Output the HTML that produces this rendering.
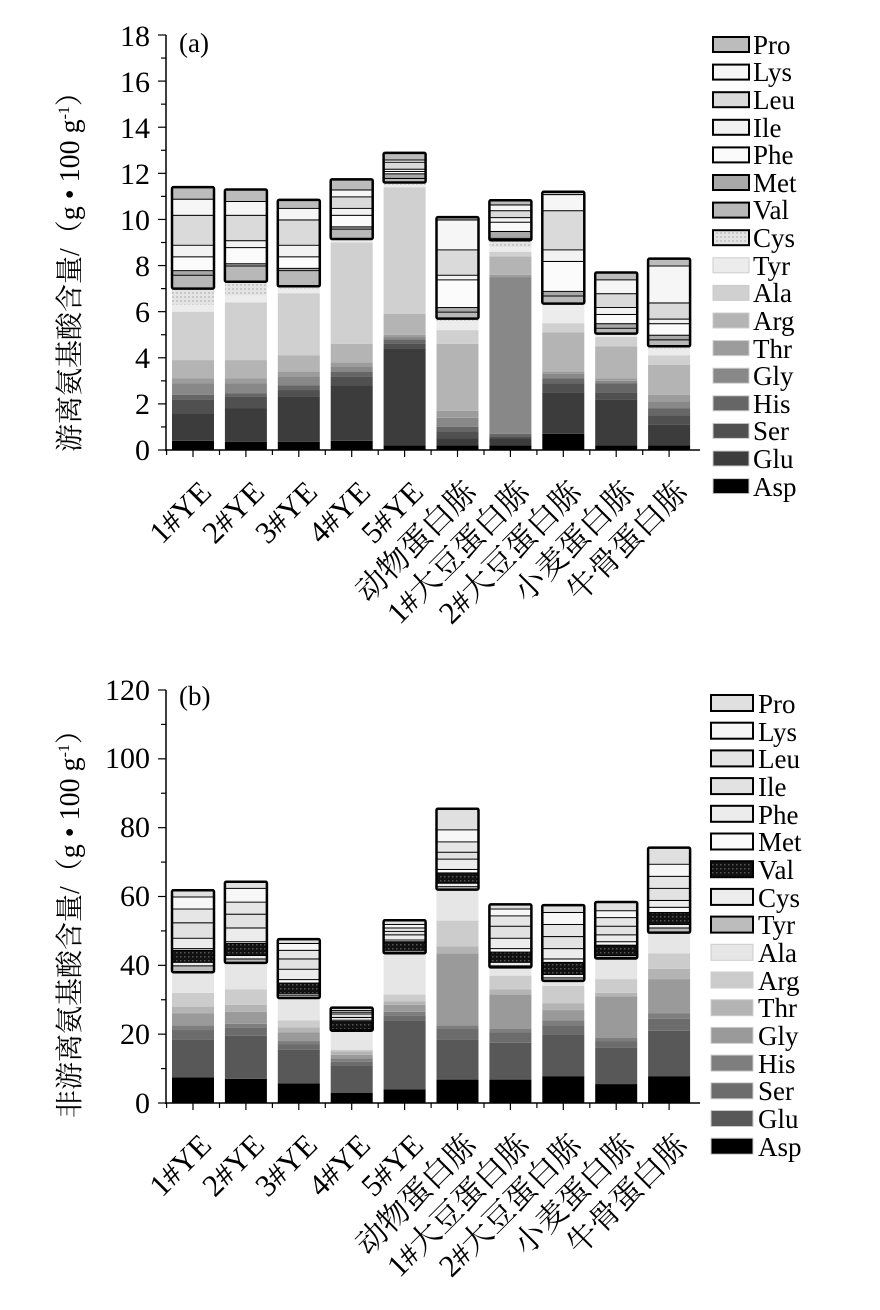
<!DOCTYPE html>
<html><head><meta charset="utf-8"><style>
html,body{margin:0;padding:0;background:#fff;width:880px;height:1310px;overflow:hidden}
svg text{font-family:"Liberation Serif","Noto Serif CJK SC",serif;fill:#000}
</style></head><body>
<svg id="s" width="880" height="1310" xmlns="http://www.w3.org/2000/svg">
<defs>
<pattern id="dotA" width="4" height="4" patternUnits="userSpaceOnUse"><rect width="4" height="4" fill="#e4e4e4"/><rect width="2" height="2" fill="#c8c8c8"/></pattern>
<pattern id="dotV" width="4" height="4" patternUnits="userSpaceOnUse"><rect width="4" height="4" fill="#111"/><rect width="1.5" height="1.5" fill="#555"/></pattern>
</defs>
<g id="bars"></g>
<line x1="166" y1="35" x2="166" y2="451" stroke="#000" stroke-width="1.5"/>
<line x1="165" y1="450" x2="700" y2="450" stroke="#000" stroke-width="1.5"/>
<g font-size="30" text-anchor="end">
<text x="150" y="460">0</text><text x="150" y="414">2</text><text x="150" y="368">4</text><text x="150" y="322">6</text><text x="150" y="276">8</text><text x="150" y="230">10</text><text x="150" y="184">12</text><text x="150" y="138">14</text><text x="150" y="92">16</text><text x="150" y="46">18</text>
</g>
<text x="179" y="52" font-size="27">(a)</text>
<text transform="translate(79,452) rotate(-90)" font-size="28">游离氨基酸含量/（g • 100 g<tspan font-size="16" dy="-10">-1</tspan><tspan dy="10">）</tspan></text>
<line x1="166" y1="690" x2="166" y2="1104" stroke="#000" stroke-width="1.5"/>
<line x1="165" y1="1103" x2="700" y2="1103" stroke="#000" stroke-width="1.5"/>
<g font-size="30" text-anchor="end">
<text x="150" y="1113">0</text><text x="150" y="1044">20</text><text x="150" y="975">40</text><text x="150" y="906">60</text><text x="150" y="837">80</text><text x="150" y="768">100</text><text x="150" y="700">120</text>
</g>
<text x="179" y="705" font-size="27">(b)</text>
<text transform="translate(79,1118) rotate(-90)" font-size="28">非游离氨基酸含量/（g • 100 g<tspan font-size="16" dy="-10">-1</tspan><tspan dy="10">）</tspan></text>
<g font-size="31" text-anchor="end">
<text transform="translate(213,494) rotate(-45)">1#YE</text>
<text transform="translate(266,494) rotate(-45)">2#YE</text>
<text transform="translate(319,494) rotate(-45)">3#YE</text>
<text transform="translate(372,494) rotate(-45)">4#YE</text>
<text transform="translate(425,494) rotate(-45)">5#YE</text>
<text transform="translate(478,494) rotate(-45)">动物蛋白胨</text>
<text transform="translate(531,494) rotate(-45)">1#大豆蛋白胨</text>
<text transform="translate(583,494) rotate(-45)">2#大豆蛋白胨</text>
<text transform="translate(636,494) rotate(-45)">小麦蛋白胨</text>
<text transform="translate(689,494) rotate(-45)">牛骨蛋白胨</text>
</g>
<g font-size="31" text-anchor="end">
<text transform="translate(213,1147) rotate(-45)">1#YE</text>
<text transform="translate(266,1147) rotate(-45)">2#YE</text>
<text transform="translate(319,1147) rotate(-45)">3#YE</text>
<text transform="translate(372,1147) rotate(-45)">4#YE</text>
<text transform="translate(425,1147) rotate(-45)">5#YE</text>
<text transform="translate(478,1147) rotate(-45)">动物蛋白胨</text>
<text transform="translate(531,1147) rotate(-45)">1#大豆蛋白胨</text>
<text transform="translate(583,1147) rotate(-45)">2#大豆蛋白胨</text>
<text transform="translate(636,1147) rotate(-45)">小麦蛋白胨</text>
<text transform="translate(689,1147) rotate(-45)">牛骨蛋白胨</text>
</g>
<g font-size="27">
<text x="753" y="54">Pro</text><text x="753" y="81">Lys</text><text x="753" y="109">Leu</text><text x="753" y="137">Ile</text><text x="753" y="164">Phe</text><text x="753" y="192">Met</text><text x="753" y="219">Val</text><text x="753" y="247">Cys</text><text x="753" y="275">Tyr</text><text x="753" y="302">Ala</text><text x="753" y="330">Arg</text><text x="753" y="358">Thr</text><text x="753" y="385">Gly</text><text x="753" y="413">His</text><text x="753" y="440">Ser</text><text x="753" y="468">Glu</text><text x="753" y="496">Asp</text>
</g>
<g font-size="27">
<text x="758" y="713">Pro</text><text x="758" y="741">Lys</text><text x="758" y="768">Leu</text><text x="758" y="796">Ile</text><text x="758" y="824">Phe</text><text x="758" y="851">Met</text><text x="758" y="879">Val</text><text x="758" y="907">Cys</text><text x="758" y="934">Tyr</text><text x="758" y="962">Ala</text><text x="758" y="990">Arg</text><text x="758" y="1017">Thr</text><text x="758" y="1045">Gly</text><text x="758" y="1073">His</text><text x="758" y="1100">Ser</text><text x="758" y="1128">Glu</text><text x="758" y="1156">Asp</text>
</g>
</svg>
<script>
var NS="http://www.w3.org/2000/svg",g=document.getElementById("bars");
function r(x,y,w,h,f){var e=document.createElementNS(NS,"rect");e.setAttribute("x",x);e.setAttribute("y",y);e.setAttribute("width",w);e.setAttribute("height",Math.max(h,0));e.setAttribute("fill",f);g.appendChild(e);}
function ln(x1,y1,x2,y2,w){var e=document.createElementNS(NS,"line");e.setAttribute("x1",x1);e.setAttribute("y1",y1);e.setAttribute("x2",x2);e.setAttribute("y2",y2);e.setAttribute("stroke","#000");e.setAttribute("stroke-width",w);g.appendChild(e);}
var colA=["#000","#3c3c3c","#505050","#666","#888","#9c9c9c","#b4b4b4","#d0d0d0","#ececec","url(#dotA)","#b8b8b8","#a8a8a8","#fbfbfb","#f2f2f2","#dadada","#f6f6f6","#bcbcbc"];
var colB=["#000","#585858","#6c6c6c","#7e7e7e","#9a9a9a","#b4b4b4","#cccccc","#e6e6e6","#bcbcbc","#ededed","url(#dotV)","#fafafa","#ececec","#e2e2e2","#e6e6e6","#f7f7f7","#e0e0e0"];
var A=[[0.4,1.6,2.2,2.4,2.9,3.1,3.9,6.0,6.3,7.0,7.6,7.8,8.4,8.9,10.2,10.9,11.4],
[0.35,1.8,2.3,2.45,2.9,3.1,3.9,6.4,6.7,7.3,8.0,8.1,8.8,9.1,10.2,10.8,11.3],
[0.35,2.3,2.6,2.8,3.2,3.4,4.1,6.8,7.0,7.1,7.8,7.9,8.4,8.9,10.0,10.5,10.85],
[0.4,2.8,3.2,3.4,3.6,3.8,4.6,9.0,9.1,9.15,9.6,9.7,10.2,10.5,11.0,11.3,11.74],
[0.2,4.4,4.6,4.8,4.9,5.0,5.9,11.4,11.5,11.6,11.8,12.0,12.1,12.2,12.5,12.6,12.89],
[0.2,0.5,0.8,1.0,1.4,1.7,4.6,5.2,5.6,5.7,6.0,6.2,7.4,7.6,8.7,10.0,10.1],
[0.2,0.5,0.6,0.7,7.5,7.6,8.4,8.6,8.8,9.1,9.2,9.5,9.9,10.1,10.4,10.65,10.83],
[0.7,2.5,2.9,3.1,3.3,3.4,5.1,5.5,6.3,6.35,6.7,6.9,8.2,8.7,10.4,11.1,11.2],
[0.2,2.2,2.5,2.9,3.0,3.1,4.5,4.9,5.0,5.05,5.3,5.5,5.9,6.2,6.8,7.4,7.7],
[0.2,1.1,1.5,1.8,2.1,2.4,3.7,4.1,4.4,4.5,4.8,5.0,5.5,5.7,6.4,8.0,8.3]];
var B=[[7.4,18.5,21.2,22.6,26,28,32,38,40,41,44.5,45,48,52.5,56.5,60,61.8],
[7.0,19.5,22,23,26.5,28.5,33,40.7,42,43,46.5,47,51,55,58.5,62.5,64.3],
[5.7,15.5,17,18,20.5,22,24,30.5,31.5,32,35,36,39,42,44.5,46.5,47.6],
[3.0,11,12,13,14,15,15.5,21,21.3,21.5,23.8,24.2,25,26,26.5,27,27.7],
[4.0,24,25.5,26.5,28.5,29.5,31.5,43.5,44,44.5,47,47.5,49,50,51,52,53.1],
[6.8,18.5,21.5,22.5,43.5,45.5,53,62,63,64,67,68,71,73,76,79.5,85.5],
[6.8,17.5,20.5,21.5,31.5,33,37,39.4,40,41,44,45,48,51.5,54.5,56.5,57.7],
[7.8,20,22.5,24,27,29,34,35.5,36.5,37.5,41,42,45,48.5,52,55.5,57.5],
[5.5,16,18,19,31,32,36,42,42.5,43,46,47,49,51.5,54,56,58.4],
[7.8,21,24.5,26,36,39,43.5,49.5,51,52,55.5,57,59,62.5,66,69.5,74.2]];
function chart(D,col,y0,sc,ob){
 for(var i=0;i<10;i++){var x=172+i*52.9,w=42,prev=0,d=D[i];
  for(var k=0;k<17;k++){var yt=y0-d[k]*sc,yb=y0-prev*sc;r(x,yt,w,yb-yt,col[k]);
   if(k>=ob){ln(x,yt,x+w,yt,2);}
   prev=d[k];}
  var yo=y0-d[ob-1]*sc,yt2=y0-d[16]*sc;
  var e=document.createElementNS(NS,"rect");e.setAttribute("x",x);e.setAttribute("y",yt2);e.setAttribute("width",w);e.setAttribute("height",yo-yt2);e.setAttribute("fill","none");e.setAttribute("stroke","#000");e.setAttribute("stroke-width","2.5");e.setAttribute("rx","1.5");g.appendChild(e);
  ln(x+w/2,y0,x+w/2,y0+7,1.2);ln(x-5.4,y0,x-5.4,y0+5,1.2);
 }
}
chart(A,colA,450,415/18,10);
chart(B,colB,1103,413/120,8);
for(var v=0;v<=18;v++){var y=450-v*415/18;ln(v%2?161:158,y,166,y,1.2);}
for(var v=0;v<=12;v++){var y=1103-v*10*413/120;ln(v%2?161:158,y,166,y,1.2);}
for(var i=0;i<17;i++){var y=37+i*27.6,k=16-i;var e=document.createElementNS(NS,"rect");e.setAttribute("x",713);e.setAttribute("y",y);e.setAttribute("width",36);e.setAttribute("height",15);e.setAttribute("fill",colA[k]);e.setAttribute("stroke",k>=9?"#000":"#ccc");e.setAttribute("stroke-width",k>=9?2:1);g.appendChild(e);}
for(var i=0;i<17;i++){var y=695+i*27.7,k=16-i;var e=document.createElementNS(NS,"rect");e.setAttribute("x",711);e.setAttribute("y",y);e.setAttribute("width",42);e.setAttribute("height",16);e.setAttribute("fill",colB[k]);e.setAttribute("stroke",k>=8?"#000":"#ccc");e.setAttribute("stroke-width",k>=8?2:1);g.appendChild(e);}
</script>
</body></html>
